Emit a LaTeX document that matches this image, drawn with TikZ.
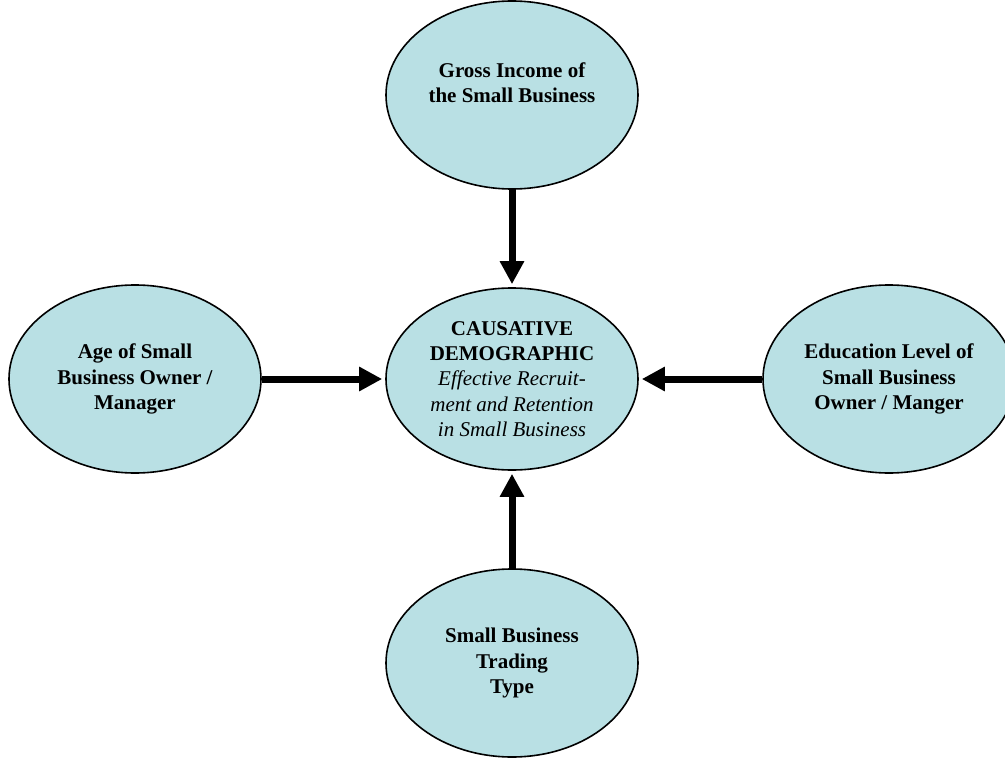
\documentclass[tikz,border=0pt]{standalone}
\usepackage{fontspec}
\setmainfont{Liberation Serif}
\usetikzlibrary{arrows.meta,shapes.geometric}
\definecolor{ovalblue}{RGB}{185,224,228}

\begin{document}
\begin{tikzpicture}[auto,node distance=142pt,
  main node/.style={ellipse,draw,line width=0.8pt,fill=ovalblue,minimum width=126pt,minimum height=94pt,align=center,inner sep=1pt,font=\fontsize{10.5}{12.6}\selectfont\bfseries},
  thick arrow/.style={line width=3.5pt,-{Triangle[length=11.5pt,width=11.5pt]},shorten >=1.5pt}]
  \useasboundingbox (-256pt,-190.5pt) rectangle (246.5pt,189.5pt);
  \node[main node,minimum height=91pt] (1) {CAUSATIVE\\DEMOGRAPHIC\\\textit{\mdseries Effective Recruit-}\\\textit{\mdseries ment and Retention}\\\textit{\mdseries in Small Business}};
  \node[main node] (2) [above of=1] {Gross Income of\\the Small Business\\~};
  \node[main node] (3) [left of=1,node distance=188.5pt] {Age of Small\\Business Owner /\\Manager};
  \node[main node] (4) [right of=1,node distance=188.5pt] {Education Level of\\Small Business\\Owner / Manger};
  \node[main node] (5) [below of=1] {Small Business\\Trading\\Type};

  \path[thick arrow]
    (2) edge (1)
    (3) edge (1)
    (4) edge (1)
    (5) edge (1);
\end{tikzpicture}
\end{document}
